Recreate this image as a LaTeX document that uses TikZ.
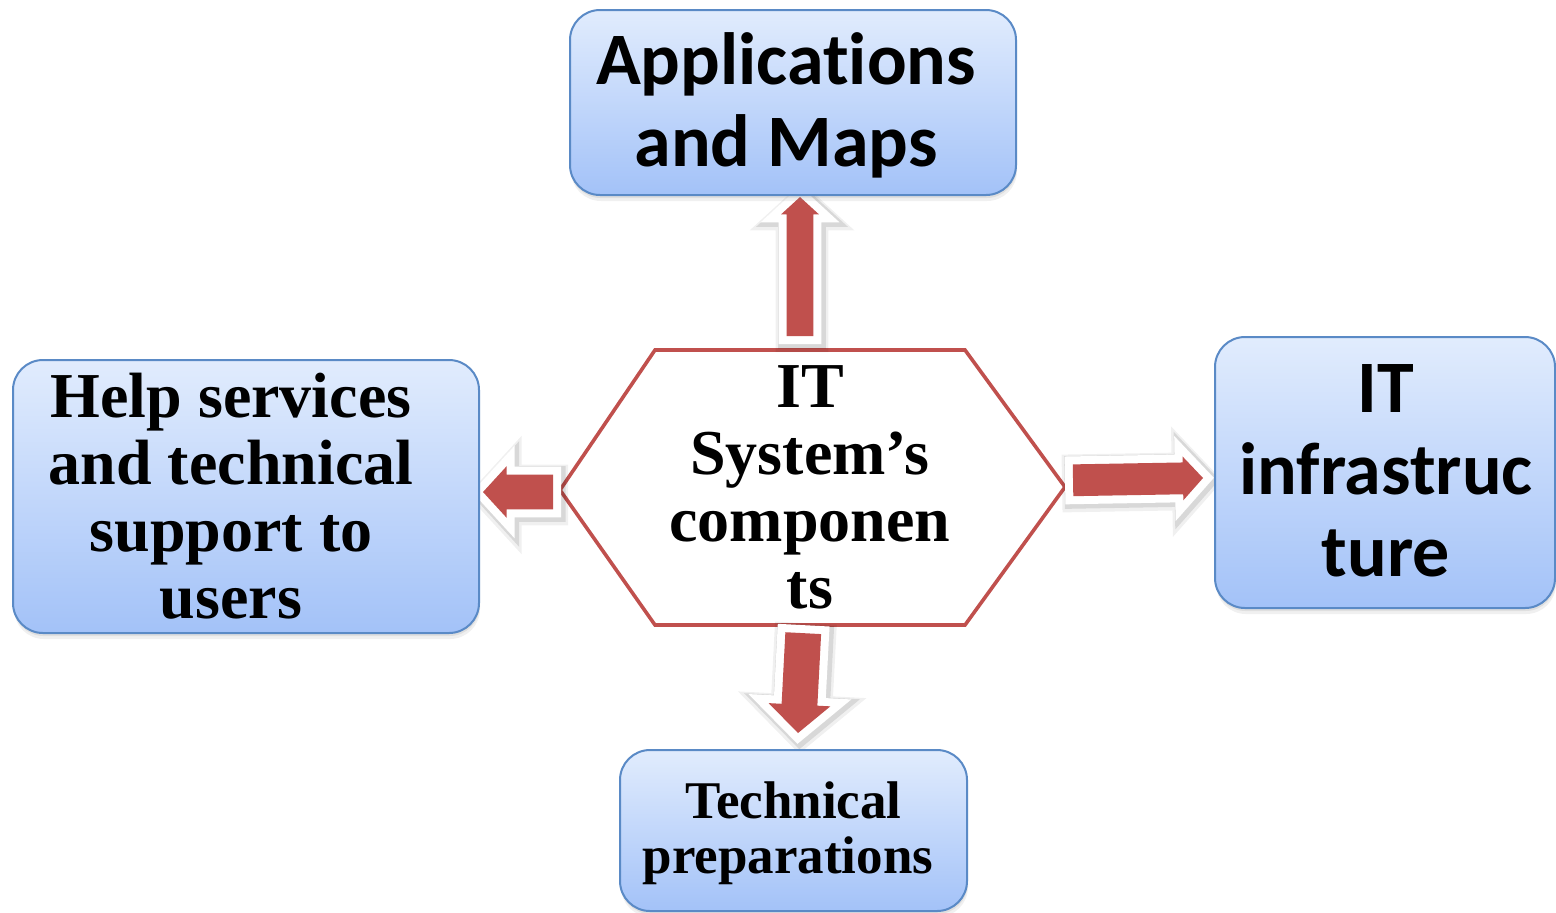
\documentclass[tikz,border=0pt]{standalone}
\usepackage{fontspec}
\newfontfamily\calfont{Carlito}[Ligatures=NoCommon]
\newfontfamily\timesfont{Liberation Serif}
\usetikzlibrary{shapes.arrows,shadows}
\definecolor{boxtop}{HTML}{E1ECFD}
\definecolor{boxbot}{HTML}{A3C2F8}
\definecolor{boxline}{HTML}{5A8AC6}
\definecolor{arrowred}{HTML}{C0504D}
\begin{document}
\begin{tikzpicture}[x=0.5pt,y=-0.5pt,
  bluebox/.style={draw=boxline, line width=1pt, rounded corners=15pt,
    top color=boxtop, bottom color=boxbot, inner sep=0pt,
    drop shadow={opacity=0.12, shadow xshift=0.5pt, shadow yshift=-3pt},
    drop shadow={opacity=0.15, shadow xshift=0.3pt, shadow yshift=-1.5pt}},
  boxtext/.style={align=center, inner sep=0pt},
  calfontbig/.style={font={\calfont\bfseries\fontsize{37pt}{41pt}\selectfont}},
  timesbig/.style={font={\timesfont\bfseries\fontsize{32pt}{33.5pt}\selectfont}},
  timessmall/.style={font={\timesfont\bfseries\fontsize{26.5pt}{27.5pt}\selectfont}},
  blockarrow/.style={single arrow, single arrow tip angle=95, fill=arrowred,
    inner sep=0pt, outer sep=0pt, text depth=0pt, anchor=tip,
    drop shadow={opacity=0.06, draw=black, line width=13pt, shadow xshift=1pt, shadow yshift=-1.5pt, line join=miter},
    drop shadow={opacity=0.10, draw=black, line width=10.5pt, shadow xshift=1pt, shadow yshift=-1pt, line join=miter},
    preaction={draw=white, line width=8pt, line join=miter}},
  hexline/.style={draw=arrowred, line width=1.8pt, fill=white, line join=miter}]
\useasboundingbox (0,0) rectangle (1556,912);

% central hexagon
\draw[hexline] (655,350) coordinate (h1) -- (965,350) coordinate (h2)
  -- (1065,487) coordinate (h3) -- (965,625) coordinate (h4)
  -- (655,625) coordinate (h5) -- (560,490) coordinate (h6) -- cycle;
\node[timesbig, boxtext] (hex) at (810,487)
  {IT\\System’s\\componen\\ts};

% block arrows
\node[blockarrow, text height=13pt, single arrow head extend=2.75pt,
  minimum height=69.5pt, rotate=90] (aup) at (800,197) {};
\node[blockarrow, text height=17pt, single arrow head extend=4.25pt,
  minimum height=35pt, rotate=180] (aleft) at (483,492) {};
\node[blockarrow, text height=15.5pt, single arrow head extend=3pt,
  minimum height=65pt, rotate=1] (aright) at (1203,478) {};
\node[blockarrow, text height=17.5pt, single arrow head extend=6.5pt,
  minimum height=50pt, rotate=-93] (adown) at (798,733) {};

% boxes
\node[bluebox, minimum width=223pt, minimum height=92.5pt]
  (app) at (793,102.5) {};
\node[boxtext, calfontbig] (apptext) at ([xshift=-3.5pt,yshift=-1.5pt]app.center)
  {Applications\\and Maps};
\node[bluebox, minimum width=233pt, minimum height=136.5pt]
  (help) at (246,496.5) {};
\node[boxtext, timesbig] (helptext) at ([xshift=-7.5pt]help.center)
  {Help services\\and technical\\support to\\users};
\node[bluebox, minimum width=170pt, minimum height=135.5pt]
  (infra) at (1385,472.5) {};
\node[boxtext, calfontbig] (infratext) at ([xshift=0.5pt,yshift=0.75pt]infra.center)
  {IT\\infrastruc\\ture};
\node[bluebox, minimum width=173.5pt, minimum height=80.5pt]
  (tech) at (793.5,830.5) {};
\node[boxtext, timessmall] (techtext) at ([yshift=-1.5pt]tech.center)
  {Technical\\preparations\hspace*{5.5pt}};
\end{tikzpicture}
\end{document}
